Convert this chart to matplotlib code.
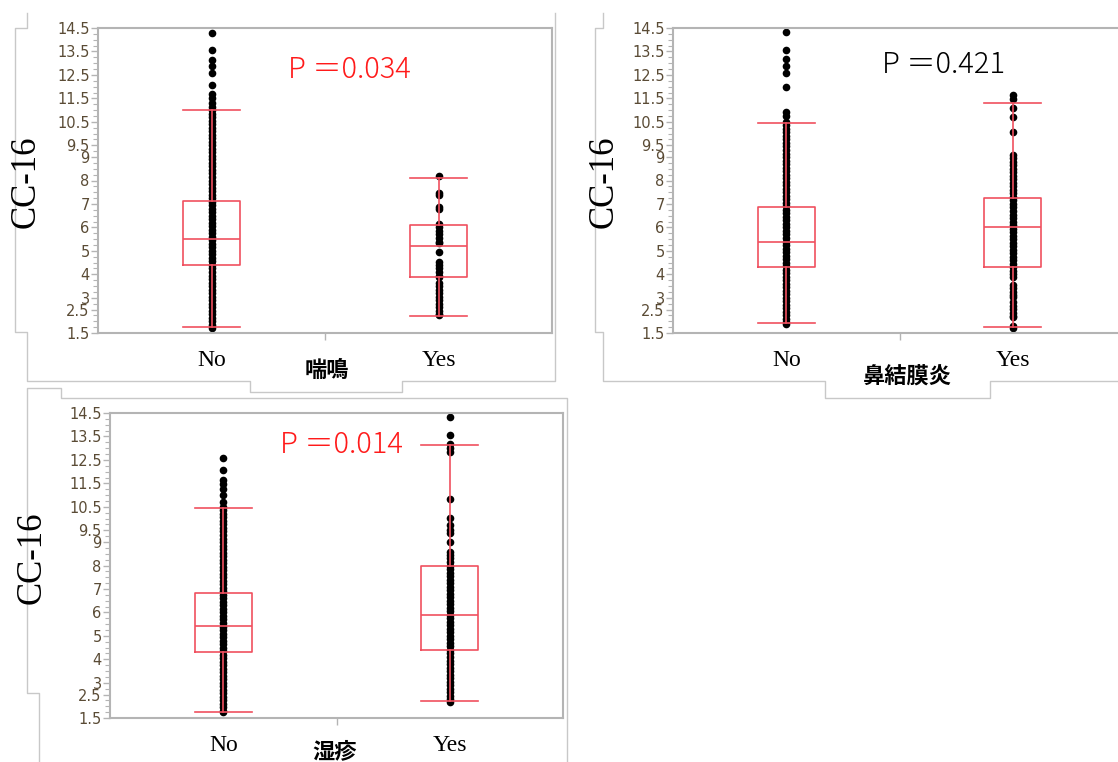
import matplotlib
matplotlib.use("Agg")
import matplotlib.pyplot as plt
from matplotlib.lines import Line2D
from matplotlib.ticker import FixedLocator
import numpy as np

W, H = 1118, 762

# ---- data (CC-16 values) ----
groups = ["No", "Yes"]
yticks = [1.5, 2.5, 3, 4, 5, 6, 7, 8, 9, 9.5, 10.5, 11.5, 12.5, 13.5, 14.5]

# 喘鳴 (wheeze)
wheeze_no = [14.3, 13.55, 13.15, 12.9, 12.6, 12.05, 11.7, 11.5, 11.3, 11.15,
             11.0, 10.85, 10.7, 10.55, 10.4, 10.25, 10.1, 9.95, 9.8, 9.65,
             9.5, 9.35, 9.2, 9.05, 8.9, 8.75, 8.6, 8.45, 8.3, 8.15, 8.0,
             7.85, 7.7, 7.55, 7.4, 7.25, 7.1, 6.95, 6.8, 6.65, 6.5, 6.35,
             6.2, 6.05, 5.9, 5.75, 5.6, 5.45, 5.3, 5.15, 5.0, 4.85, 4.7,
             4.55, 4.4, 4.25, 4.1, 3.95, 3.8, 3.65, 3.5, 3.35, 3.2, 3.05,
             2.9, 2.75, 2.6, 2.45, 2.3, 2.15, 2.0, 1.85, 1.7]
wheeze_yes = [8.19, 7.47, 7.38, 6.87, 6.78, 6.15, 6.0, 5.85, 5.7, 5.55, 5.4,
              5.33, 4.95, 4.53, 4.4, 4.25, 4.1, 3.95, 3.9, 3.63, 3.5, 3.35,
              3.2, 3.05, 2.9, 2.75, 2.6, 2.45, 2.3, 2.27]
wheeze_stats = [(1.76, 4.4, 5.5, 7.13, 11.0), (2.24, 3.87, 5.22, 6.09, 8.09)]
wheeze_p = "P ＝0.034"

# 鼻結膜炎 (rhinoconjunctivitis)
rhino_no = [14.33, 13.56, 13.18, 12.9, 12.6, 12.0, 10.9, 10.75,
            10.5, 10.35, 10.2, 10.05, 9.9, 9.75, 9.6, 9.45, 9.3, 9.15, 9.0,
            8.85, 8.7, 8.55, 8.4, 8.25, 8.1, 7.95, 7.8, 7.65, 7.5, 7.35,
            7.2, 7.05, 6.9, 6.75, 6.6, 6.45, 6.3, 6.15, 6.0, 5.85, 5.7,
            5.55, 5.4, 5.25, 5.1, 4.95, 4.8, 4.65, 4.5, 4.35, 4.2, 4.05,
            3.9, 3.75, 3.6, 3.45, 3.3, 3.15, 3.0, 2.85, 2.7, 2.55, 2.4,
            2.25, 2.1, 1.95, 1.88]
rhino_yes = [11.64, 11.47, 11.1, 10.7, 10.07,
             9.09, 8.95, 8.8, 8.65, 8.5, 8.35, 8.2, 8.05, 7.9, 7.75, 7.6,
             7.45, 7.3, 7.15, 7.0, 6.85, 6.7, 6.55, 6.4, 6.25, 6.1, 5.95,
             5.8, 5.65, 5.5, 5.35, 5.2, 5.05, 4.91,
             4.74, 4.6, 4.45, 4.3, 4.15, 4.0, 3.89,
             3.55, 3.4, 3.25, 3.1, 3.03,
             2.82, 2.67, 2.52, 2.37, 2.22, 2.18,
             1.8, 1.72]
rhino_stats = [(1.93, 4.31, 5.38, 6.87, 10.45), (1.77, 4.31, 6.03, 7.25, 11.3)]
rhino_p = "P ＝0.421"

# 湿疹 (eczema)
eczema_no = [12.58, 12.07, 11.64, 11.47, 11.26, 11.0, 10.7,
             10.5, 10.35, 10.2, 10.05, 9.9, 9.75, 9.6, 9.45, 9.3, 9.15, 9.0,
             8.85, 8.7, 8.55, 8.4, 8.25, 8.1, 7.95, 7.8, 7.65, 7.5, 7.35,
             7.2, 7.05, 6.9, 6.75, 6.6, 6.45, 6.3, 6.15, 6.0, 5.85, 5.7,
             5.55, 5.4, 5.25, 5.1, 4.95, 4.8, 4.65, 4.5, 4.35, 4.2, 4.05,
             3.9, 3.75, 3.6, 3.45, 3.3, 3.15, 3.0, 2.85, 2.7, 2.55, 2.4,
             2.25, 2.1, 1.95, 1.8, 1.76]
eczema_yes = [14.33, 13.56, 13.18, 13.0, 12.84, 10.84, 10.02, 9.73, 9.51,
              9.37, 9.02,
              8.59, 8.45, 8.3, 8.15, 8.0, 7.85, 7.7, 7.55, 7.4, 7.25, 7.1,
              6.95, 6.8, 6.65, 6.5, 6.35, 6.2, 6.05, 5.9, 5.75, 5.6, 5.45,
              5.3, 5.15, 5.0, 4.85, 4.7, 4.55, 4.4, 4.25, 4.1, 3.95, 3.8,
              3.65, 3.5, 3.35, 3.2, 3.05, 2.9, 2.75, 2.6, 2.45, 2.3, 2.18]
eczema_stats = [(1.76, 4.31, 5.42, 6.83, 10.45), (2.24, 4.40, 5.89, 7.98, 13.14)]
eczema_p = "P ＝0.014"

BOX_RED = "#f0505f"
SPINE = "#b4b4b4"
FRAME = "#c8c8c8"
TICKTXT = "#5a4b35"
CJK = ["Noto Sans CJK JP", "DejaVu Sans"]


def px_axes(fig, l, t, r, b):
    return fig.add_axes([l / W, 1 - b / H, (r - l) / W, (b - t) / H])


def frame(fig, pts):
    xs = [p[0] / W for p in pts]
    ys = [1 - p[1] / H for p in pts]
    fig.add_artist(Line2D(xs, ys, transform=fig.transFigure, color=FRAME, lw=1.0))


def panel(ax, no_vals, yes_vals, stats):
    ax.plot(np.zeros(len(no_vals)), no_vals, "o", color="black", ms=5.5, mew=0, zorder=2)
    ax.plot(np.ones(len(yes_vals)), yes_vals, "o", color="black", ms=5.5, mew=0, zorder=2)
    bstats = [dict(whislo=s[0], q1=s[1], med=s[2], q3=s[3], whishi=s[4], fliers=[])
              for s in stats]
    lp = dict(color=BOX_RED, lw=1.2, zorder=3)
    ax.bxp(bstats, positions=[0, 1], widths=0.25, capwidths=0.25, showfliers=False,
           boxprops=lp, whiskerprops=lp, capprops=lp, medianprops=lp)
    ax.set_xlim(-0.5, 1.5)
    ax.set_ylim(1.5, 14.5)
    ax.set_yticks(yticks)
    ax.set_yticklabels([f"{v:g}" for v in yticks], fontsize=10.5, color=TICKTXT)
    ax.yaxis.set_minor_locator(FixedLocator(np.arange(1.5, 14.51, 0.25)))
    ax.tick_params(axis="y", which="major", length=5, width=1, color=SPINE, pad=1)
    ax.tick_params(axis="y", which="minor", length=3.5, width=0.8, color=SPINE)
    ax.set_xticks([0, 1])
    ax.set_xticklabels(groups, fontsize=17, family="Liberation Serif")
    ax.xaxis.set_minor_locator(FixedLocator([0.5]))
    ax.tick_params(axis="x", which="major", length=0, pad=12)
    ax.tick_params(axis="x", which="minor", length=5, width=1, color=SPINE)
    for sp in ax.spines.values():
        sp.set_color(SPINE)
        sp.set_linewidth(1.5)


fig = plt.figure(figsize=(W / 100, H / 100), dpi=100)

ax1 = px_axes(fig, 98, 28, 552, 333)
panel(ax1, wheeze_no, wheeze_yes, wheeze_stats)
ax2 = px_axes(fig, 673, 28, 1126, 333)
panel(ax2, rhino_no, rhino_yes, rhino_stats)
ax3 = px_axes(fig, 110, 413, 563, 718)
panel(ax3, eczema_no, eczema_yes, eczema_stats)

# JMP-style outline frames
frame(fig, [(27, 13), (27, 28), (15, 28), (15, 332), (27, 332), (27, 381),
            (250, 381), (250, 392), (402, 392), (402, 381), (555, 381), (555, 13)])
frame(fig, [(603, 13), (603, 28), (595, 28), (595, 332), (603, 332), (603, 381),
            (825, 381), (825, 398), (990, 398), (990, 381), (1118, 381)])
frame(fig, [(39, 762), (39, 693), (27, 693), (27, 388), (61, 388), (61, 398),
            (567, 398), (567, 762)])

# y labels
for x, y in [(26, 182), (604, 182), (32, 558)]:
    fig.text(x / W, 1 - y / H, "CC-16", rotation=90, ha="center", va="center",
             fontsize=25, family="Liberation Serif")

# x group titles
for x, y, s in [(327, 370, "喘鳴"), (907, 377, "鼻結膜炎"), (335, 752, "湿疹")]:
    fig.text(x / W, 1 - y / H, s, ha="center", va="center", fontsize=16,
             fontweight="bold", family=CJK)

# p values
for x, y, s, c in [(288, 78, wheeze_p, "#ff1a1a"), (882, 73, rhino_p, "black"),
                   (280, 453, eczema_p, "#ff1a1a")]:
    fig.text(x / W, 1 - y / H, s, ha="left", va="baseline", fontsize=21,
             color=c, family=CJK, fontweight="light")

fig.savefig("out.png", dpi=100)
